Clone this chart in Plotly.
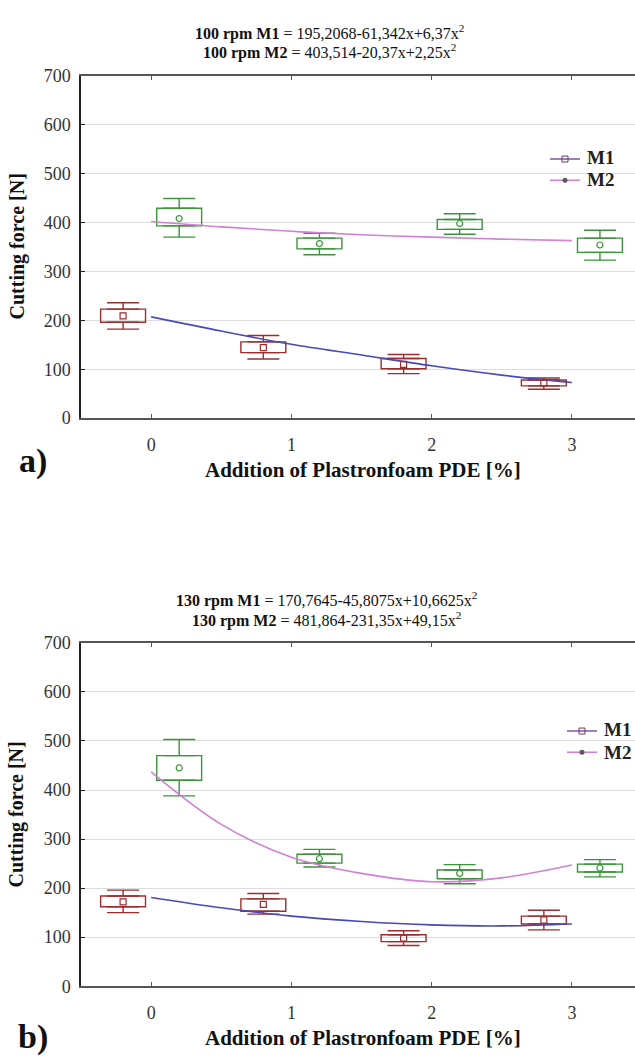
import plotly.graph_objects as go

# ---------------- data ----------------
categories = [0, 1, 2, 3]
tick_labels = ["0", "1", "2", "3"]
y_ticks = [0, 100, 200, 300, 400, 500, 600, 700]
series_names = ["M1", "M2"]

# chart a) 100 rpm
a_m1_mean = [209, 144, 110, 72]
a_m1_q1 = [196, 134, 101, 66]
a_m1_q3 = [223, 156, 122, 78]
a_m1_lo = [182, 121, 91, 59]
a_m1_hi = [236, 169, 130, 82]

a_m2_mean = [408, 357, 398, 354]
a_m2_q1 = [393, 346, 386, 339]
a_m2_q3 = [429, 368, 406, 368]
a_m2_lo = [370, 334, 376, 323]
a_m2_hi = [449, 378, 418, 384]

fit_x = [0, 0.5, 1, 1.5, 2, 2.5, 3]
a_fit_m1 = [207, 178, 151, 129, 107, 88, 73]
a_fit_m2 = [402, 391, 382, 375, 370, 366, 363]

# chart b) 130 rpm
b_m1_mean = [172, 167, 98, 135]
b_m1_q1 = [162, 153, 91, 127]
b_m1_q3 = [184, 178, 105, 143]
b_m1_lo = [150, 147, 83, 115]
b_m1_hi = [196, 189, 113, 155]

b_m2_mean = [445, 260, 230, 241]
b_m2_q1 = [420, 251, 219, 233]
b_m2_q3 = [470, 269, 237, 249]
b_m2_lo = [388, 243, 209, 223]
b_m2_hi = [503, 279, 248, 258]

b_fit_m1 = [181, 160, 143, 132, 125, 123, 127]
b_fit_m2 = [437, 330, 263, 230, 213, 221, 247]

title_a = ["<b>100 rpm M1</b> = 195,2068-61,342x+6,37x<sup>2</sup>",
           "<b>100 rpm M2</b> = 403,514-20,37x+2,25x<sup>2</sup>"]
title_b = ["<b>130 rpm M1</b> = 170,7645-45,8075x+10,6625x<sup>2</sup>",
           "<b>130 rpm M2</b> = 481,864-231,35x+49,15x<sup>2</sup>"]
x_title = "Addition of Plastronfoam PDE [%]"
y_title = "Cutting force [N]"

# ---------------- style ----------------
W, H = 635, 1061
ML = 81
SERIF = "Liberation Serif, Times New Roman, serif"
C_M1_BOX = "#9a2e2e"
C_M2_BOX = "#3a953a"
C_M1_FIT = "#4848b8"
C_M2_FIT = "#d27fd6"
OFFSET = 0.2
BOX_W = 0.32

fig = go.Figure()


def add_group(xa, ya, mean, q1, q3, lo, hi, offset, color):
    xs = [c + offset for c in categories]
    fig.add_trace(go.Bar(
        x=xs, y=[b - a for a, b in zip(q1, q3)], base=q1, width=BOX_W,
        marker=dict(color="rgba(0,0,0,0)", line=dict(color=color, width=1.4)),
        xaxis=xa, yaxis=ya, showlegend=False, hoverinfo="skip"))
    fig.add_trace(go.Scatter(
        x=xs, y=q3, mode="markers",
        marker=dict(color="rgba(0,0,0,0)", size=1),
        error_y=dict(type="data", symmetric=False,
                     array=[h - q for h, q in zip(hi, q3)],
                     arrayminus=[0] * len(q3),
                     color=color, thickness=1.4, width=16),
        xaxis=xa, yaxis=ya, showlegend=False, hoverinfo="skip"))
    fig.add_trace(go.Scatter(
        x=xs, y=q1, mode="markers",
        marker=dict(color="rgba(0,0,0,0)", size=1),
        error_y=dict(type="data", symmetric=False,
                     array=[0] * len(q1),
                     arrayminus=[q - l for q, l in zip(q1, lo)],
                     color=color, thickness=1.4, width=16),
        xaxis=xa, yaxis=ya, showlegend=False, hoverinfo="skip"))
    return xs


def add_panel(xa, ya, legend, m1, m2, fit1, fit2):
    xs1 = add_group(xa, ya, *m1, -OFFSET, C_M1_BOX)
    xs2 = add_group(xa, ya, *m2, OFFSET, C_M2_BOX)
    fig.add_trace(go.Scatter(x=fit_x, y=fit1, mode="lines", line=dict(color=C_M1_FIT, width=1.6, shape="spline"),
                             xaxis=xa, yaxis=ya, showlegend=False, hoverinfo="skip"))
    fig.add_trace(go.Scatter(x=fit_x, y=fit2, mode="lines", line=dict(color=C_M2_FIT, width=1.6, shape="spline"),
                             xaxis=xa, yaxis=ya, showlegend=False, hoverinfo="skip"))
    fig.add_trace(go.Scatter(x=xs1, y=m1[0], mode="markers",
                             marker=dict(symbol="square-open", size=6, color=C_M1_BOX, line=dict(width=1.2)),
                             xaxis=xa, yaxis=ya, showlegend=False, hoverinfo="skip"))
    fig.add_trace(go.Scatter(x=xs2, y=m2[0], mode="markers",
                             marker=dict(symbol="circle-open", size=6, color=C_M2_BOX, line=dict(width=1.2)),
                             xaxis=xa, yaxis=ya, showlegend=False, hoverinfo="skip"))
    # legend keys (the labels themselves are drawn as text annotations next to them)
    fig.add_trace(go.Scatter(x=[None], y=[None], mode="lines+markers", name=" ",
                             line=dict(color="#7a58a8", width=1.5),
                             marker=dict(symbol="square-open", size=6, color="#6a3a6a"),
                             xaxis=xa, yaxis=ya, legend=legend))
    fig.add_trace(go.Scatter(x=[None], y=[None], mode="lines+markers", name=" ",
                             line=dict(color=C_M2_FIT, width=1.5),
                             marker=dict(symbol="circle", size=5, color="#5a5a5a"),
                             xaxis=xa, yaxis=ya, legend=legend))


add_panel("x", "y", "legend",
          (a_m1_mean, a_m1_q1, a_m1_q3, a_m1_lo, a_m1_hi),
          (a_m2_mean, a_m2_q1, a_m2_q3, a_m2_lo, a_m2_hi),
          a_fit_m1, a_fit_m2)
add_panel("x2", "y2", "legend2",
          (b_m1_mean, b_m1_q1, b_m1_q3, b_m1_lo, b_m1_hi),
          (b_m2_mean, b_m2_q1, b_m2_q3, b_m2_lo, b_m2_hi),
          b_fit_m1, b_fit_m2)


def py(px):
    return 1 - px / H


def px_x(px):
    return (px - ML) / (W - ML)


dom_a = [py(416), py(67)]
dom_b = [py(995), py(645)]

xaxis_style = dict(range=[-0.5, 3.45], tickvals=categories, ticktext=tick_labels,
                   showgrid=False, zeroline=False, showline=True, linecolor="#555555",
                   linewidth=2, mirror="ticks", ticks="inside", ticklen=4, tickcolor="#555555",
                   ticklabelstandoff=9,
                   tickfont=dict(family=SERIF, size=18, color="#333333"), domain=[0, 1])
yaxis_style = dict(range=[0, 700], tickvals=y_ticks, showgrid=True, gridcolor="#dddddd",
                   gridwidth=1, zeroline=False, showline=True, linecolor="#222222",
                   linewidth=1.5, ticks="inside", ticklen=4, tickcolor="#222222",
                   ticklabelstandoff=5,
                   tickfont=dict(family=SERIF, size=18, color="#333333"))

legend_font = dict(family=SERIF, size=14, color="#222222")
fig.update_layout(
    width=W, height=H,
    margin=dict(l=ML, r=0, t=0, b=0),
    paper_bgcolor="white", plot_bgcolor="white",
    barmode="overlay",
    xaxis=dict(**xaxis_style, anchor="y"),
    yaxis=dict(**yaxis_style, domain=dom_a, anchor="x"),
    xaxis2=dict(**xaxis_style, anchor="y2"),
    yaxis2=dict(**yaxis_style, domain=dom_b, anchor="x2"),
    legend=dict(x=px_x(545), y=py(136), xanchor="left", yanchor="top",
                bgcolor="rgba(0,0,0,0)", itemwidth=30, tracegroupgap=0, font=legend_font),
    legend2=dict(x=px_x(562), y=py(719), xanchor="left", yanchor="top",
                 bgcolor="rgba(0,0,0,0)", itemwidth=30, tracegroupgap=0, font=legend_font),
    showlegend=True,
)

ann = []
for i, t in enumerate(title_a):
    ann.append(dict(text=t, x=px_x(329), y=py([23, 42][i]), xref="paper", yref="paper",
                    xanchor="center", yanchor="middle", showarrow=False,
                    font=dict(family=SERIF, size=16, color="#111111")))
for i, t in enumerate(title_b):
    ann.append(dict(text=t, x=px_x(326), y=py([601, 621][i]), xref="paper", yref="paper",
                    xanchor="center", yanchor="middle", showarrow=False,
                    font=dict(family=SERIF, size=16, color="#111111")))
for yc, lab, ty in [(241, "a)", 460), (820, "b)", 1047)]:
    ann.append(dict(text="<b>" + y_title + "</b>", x=px_x(17), y=py(yc), xref="paper", yref="paper",
                    xanchor="center", yanchor="middle", textangle=-90, showarrow=False,
                    font=dict(family=SERIF, size=20, color="#111111")))
    ann.append(dict(text="<b>" + lab + "</b>", x=px_x(33), y=py(ty), xref="paper", yref="paper",
                    xanchor="center", yanchor="middle", showarrow=False,
                    font=dict(family=SERIF, size=34, color="#111111")))
for ty in [469, 1048]:
    ann.append(dict(text="<b>" + x_title + "</b>", x=px_x(363), y=py(ty), xref="paper", yref="paper",
                    xanchor="center", yanchor="middle", showarrow=False,
                    font=dict(family=SERIF, size=21, color="#111111")))
# legend labels
for name, lx, ly in [(series_names[0], 585, 150), (series_names[1], 585, 173),
                     (series_names[0], 602, 733), (series_names[1], 602, 757)]:
    ann.append(dict(text="<b>" + name + "</b>", x=px_x(lx), y=py(ly), xref="paper", yref="paper",
                    xanchor="left", yanchor="middle", showarrow=False,
                    font=dict(family=SERIF, size=19, color="#222222")))
fig.update_layout(annotations=ann)

fig.write_html("out.html", config={"displayModeBar": False},
               post_script="document.body.style.margin='0';document.body.style.overflow='hidden';")
